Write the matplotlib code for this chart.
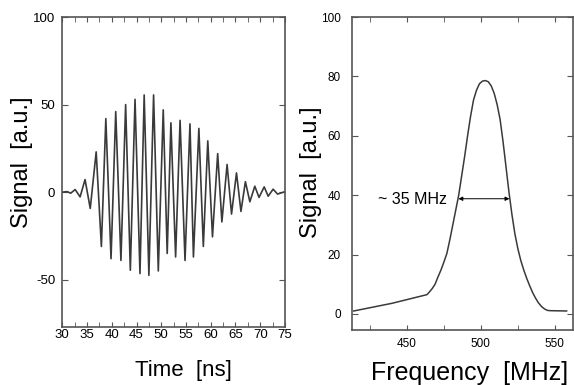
import numpy as np
import matplotlib
matplotlib.use("Agg")
import matplotlib.pyplot as plt
from matplotlib.ticker import MultipleLocator

plt.rcParams['font.family'] = ['Liberation Sans', 'DejaVu Sans']
plt.rcParams['axes.unicode_minus'] = False

# time trace: extrema (ns, a.u.)
time_ns = [30.0, 31.0, 31.7, 32.6, 33.6, 34.6, 35.65, 36.85, 37.9, 38.8,
           39.85, 40.8, 41.85, 42.8, 43.75, 44.7, 45.7, 46.55, 47.5, 48.45,
           49.4, 50.4, 51.2, 51.95, 52.9, 53.8, 54.8, 55.8, 56.5, 57.6,
           58.5, 59.4, 60.35, 61.4, 62.25, 63.3, 64.2, 65.2, 66.1, 67.0,
           67.9, 68.9, 69.75, 70.8, 71.6, 72.6, 73.5, 75.0]
signal_t = [0.0, 0.3, -0.6, 1.5, -2.7, 7.2, -9.3, 23.0, -31.0, 42.0,
            -38.0, 46.0, -39.0, 50.0, -44.6, 53.0, -46.5, 55.5, -47.5, 55.5,
            -45.0, 47.0, -35.0, 39.6, -37.0, 41.0, -39.0, 39.0, -37.0, 36.4,
            -31.0, 29.3, -25.5, 22.0, -17.0, 15.8, -12.5, 11.0, -11.0, 6.0,
            -5.5, 3.4, -3.0, 3.0, -2.3, 1.7, -1.1, 0.3]

# spectrum (MHz, a.u.)
freq_mhz = [414, 440, 463.5, 465, 467, 469, 471, 473, 475, 477, 479, 481,
            483, 485, 487, 489, 491, 493, 495, 497, 499, 501, 503, 505,
            507, 509, 511, 513, 515, 517, 519, 521, 523, 525, 527, 529,
            531, 533, 535, 537, 539, 541, 543, 545, 547, 558]
signal_f = [1.0, 3.6, 6.5, 7.3, 8.5, 10.0, 12.5, 14.8, 17.5, 20.4, 25.0, 30.0,
            35.0, 40.0, 46.5, 53.0, 60.0, 66.5, 72.0, 75.3, 77.5, 78.4, 78.6, 78.2,
            76.8, 74.3, 70.5, 65.5, 58.0, 49.5, 41.0, 33.5, 27.0, 22.0, 18.0, 14.8,
            12.0, 9.5, 7.2, 5.3, 3.7, 2.5, 1.7, 1.2, 1.1, 1.0]

fwhm_left, fwhm_right, fwhm_level = 484.8, 519.3, 38.8

spine_col = '#555555'

fig = plt.figure(figsize=(5.74, 3.85), dpi=100)
ax1 = fig.add_axes([0.1085, 0.1506, 0.388, 0.8052])
ax2 = fig.add_axes([0.6132, 0.1429, 0.3858, 0.8129])

# left: time domain
ax1.plot(time_ns, signal_t, color='#3a3a3a', lw=1.2)
ax1.set_xlim(30, 75)
ax1.set_ylim(-77, 100)
ax1.xaxis.set_major_locator(MultipleLocator(5))
ax1.xaxis.set_minor_locator(MultipleLocator(2.5))
ax1.yaxis.set_major_locator(MultipleLocator(50))
ax1.tick_params(which='both', direction='in', top=True, right=True,
                color=spine_col, labelsize=9.5)
ax1.tick_params(axis='x', which='both', length=3.5, pad=1.5)
ax1.tick_params(axis='y', length=4, pad=5)
ax1.set_xlabel('Time  [ns]', fontsize=16)
ax1.set_ylabel('Signal  [a.u.]', fontsize=17)
ax1.xaxis.set_label_coords(0.546, -0.108)
ax1.yaxis.set_label_coords(-0.13, 0.53)

# right: spectrum
ax2.plot(freq_mhz, signal_f, color='#3a3a3a', lw=1.1)
ax2.set_xlim(412.8, 562.6)
ax2.set_ylim(-5.4, 100)
ax2.xaxis.set_major_locator(MultipleLocator(50))
ax2.xaxis.set_minor_locator(MultipleLocator(25))
ax2.yaxis.set_major_locator(MultipleLocator(20))
ax2.tick_params(which='both', direction='in', top=True, right=True,
                color=spine_col, labelsize=8.5)
ax2.tick_params(axis='x', which='both', length=3.5, pad=6)
ax2.tick_params(axis='y', length=4, pad=8)
ax2.set_xlabel('Frequency  [MHz]', fontsize=18)
ax2.set_ylabel('Signal  [a.u.]', fontsize=17)
ax2.xaxis.set_label_coords(0.53, -0.098)
ax2.yaxis.set_label_coords(-0.135, 0.503)

ax2.annotate('', xy=(fwhm_left, fwhm_level), xytext=(fwhm_right, fwhm_level),
             arrowprops=dict(arrowstyle='<|-|>', color='black', lw=0.7,
                             mutation_scale=6, shrinkA=0, shrinkB=0))
ax2.text(477, 38.5, '~ 35 MHz', fontsize=11.5, ha='right', va='center')

for ax in (ax1, ax2):
    for s in ax.spines.values():
        s.set_color(spine_col)
        s.set_linewidth(1.2)

fig.savefig('out.png', dpi=100)
